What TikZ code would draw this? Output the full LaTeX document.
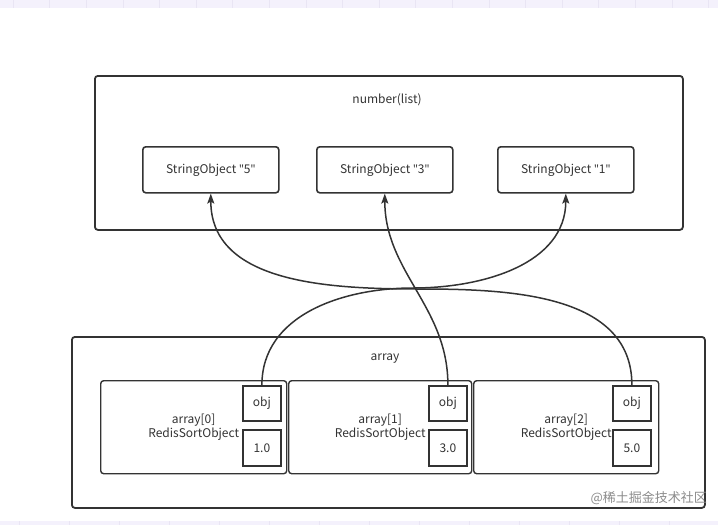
\documentclass[tikz,border=0pt]{standalone}
\usepackage{fontspec}
\setmainfont{Noto Sans CJK SC}
\newfontfamily\cjk{Noto Sans CJK SC}
\newfontfamily\qf{Noto Sans}
\usetikzlibrary{arrows.meta}
\definecolor{ink}{HTML}{333333}
\definecolor{band}{HTML}{F4F1FC}
\definecolor{bandline}{HTML}{E9E5F4}
\definecolor{wmgray}{HTML}{8C8C8C}
\newcommand{\dq}{{\qf\symbol{34}}}
\begin{document}
\begin{tikzpicture}[x=1pt,y=-1pt,
  outerbox/.style={draw=ink, line width=1.8pt, rounded corners=3pt, anchor=north west, inner sep=0pt},
  strbox/.style={draw=ink, line width=1.6pt, rounded corners=3pt, anchor=north west, inner sep=0pt,
    minimum width=136pt, minimum height=46pt, text=ink, font=\fontsize{12}{14}\selectfont},
  itembox/.style={draw=ink, line width=1.4pt, rounded corners=3pt, anchor=north west, inner sep=0pt,
    minimum height=93pt, text=ink, align=center, font=\fontsize{12}{14}\selectfont},
  fieldbox/.style={draw=ink, line width=1.8pt, anchor=north west, inner sep=0pt,
    minimum width=38pt, text=ink, font=\fontsize{12}{14}\selectfont},
  lbl/.style={text=ink, inner sep=0pt, font=\fontsize{12}{14}\selectfont},
  conn/.style={draw=ink, line width=1.5pt, -{Stealth[length=10pt,width=7pt,inset=2pt]}},
  wm/.style={text=wmgray, inner sep=0pt, font=\cjk\fontsize{13}{15}\selectfont}]
\useasboundingbox (0,0) rectangle (718,525);
\fill[white] (0,0) rectangle (718,525);
% top and bottom bands
\fill[band] (0,0) rectangle (718,8);
\fill[band] (0,521) rectangle (718,525);
\foreach \i in {0,...,19} \draw[bandline, line width=0.6pt] ({13+36.6*\i},0) -- ({13+36.6*\i},8);
\foreach \i in {0,...,14} \draw[bandline, line width=0.6pt] ({19+50*\i},521) -- ({19+50*\i},525);

% outer boxes
\node[outerbox, minimum width=588pt, minimum height=154pt] (top) at (94,75) {};
\node[outerbox, minimum width=633pt, minimum height=171pt] (bot) at (71,336) {};
\node[lbl] (toplbl) at (387,100) {number(list)};
\node[lbl] (botlbl) at (385,359) {array};

% string objects
\node[strbox] (s5) at (142,146) {StringObject \dq5\dq};
\node[strbox] (s3) at (316,146) {StringObject \dq3\dq};
\node[strbox] (s1) at (497,146) {StringObject \dq1\dq};

% array items
\node[itembox, minimum width=186pt] (a0) at (100,380) {array[0]\\RedisSortObject};
\node[itembox, minimum width=183pt] (a1) at (288,380) {array[1]\\RedisSortObject};
\node[itembox, minimum width=185pt] (a2) at (473,380) {array[2]\\RedisSortObject};

\node[fieldbox, minimum height=35pt] (o0) at (242,385) {obj};
\node[fieldbox, minimum height=36pt] (v0) at (242,429) {1.0};
\node[fieldbox, minimum height=35pt] (o1) at (428,385) {obj};
\node[fieldbox, minimum height=36pt] (v1) at (428,429) {3.0};
\node[fieldbox, minimum height=35pt] (o2) at (612,385) {obj};
\node[fieldbox, minimum height=36pt] (v2) at (612,429) {5.0};

% waypoints
\coordinate (m1) at (413,288);
\coordinate (m3) at (420,289);

% connectors
\draw[conn] (o0.north) to[out=90,in=180] (m1) to[out=0,in=-90] (s1.south);
\draw[conn] (o1.north) to[out=90,in=-90] (s3.south);
\draw[conn] (o2.north) to[out=90,in=0] (m3) to[out=180,in=-90] (s5.south);

% watermark
\node[wm, anchor=east] (wmk) at (707,498) {@稀土掘金技术社区};
\end{tikzpicture}
\end{document}
